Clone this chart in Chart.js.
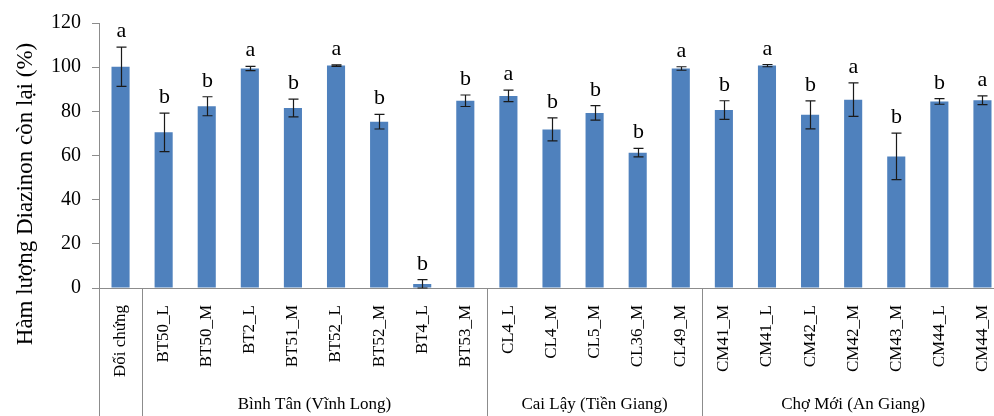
<!DOCTYPE html>
<html>
<head>
<meta charset="utf-8">
<script src="https://cdn.jsdelivr.net/npm/chart.js@4/dist/chart.umd.min.js"></script>
<style>
  html, body { margin: 0; padding: 0; background: #fff; overflow: hidden; }
  #wrap { width: 1004px; height: 416px; }
</style>
</head>
<body>
<div id="wrap"><canvas id="c" width="1004" height="416"></canvas></div>
<script>
// Strain names, in plotting order
const categories = ['Đối chứng',
  'BT50_L', 'BT50_M', 'BT2_L', 'BT51_M', 'BT52_L', 'BT52_M', 'BT4_L', 'BT53_M',
  'CL4_L', 'CL4_M', 'CL5_M', 'CL36_M', 'CL49_M',
  'CM41_M', 'CM41_L', 'CM42_L', 'CM42_M', 'CM43_M', 'CM44_L', 'CM44_M'];

// Remaining Diazinon (%) and its standard deviation
const remaining = [100.2, 70.5, 82.3, 99.4, 81.5, 100.7, 75.3, 1.8, 84.8,
  87.0, 71.8, 79.3, 61.3, 99.4,
  80.6, 100.7, 78.4, 85.3, 59.6, 84.5, 85.0];
const stdDev = [8.9, 8.7, 4.3, 1.0, 4.0, 0.3, 3.3, 2.0, 2.6,
  2.6, 5.2, 3.3, 1.9, 0.8,
  4.2, 0.5, 6.3, 7.6, 10.5, 1.3, 2.0];

// Significance letters
const letters = ['a', 'b', 'b', 'a', 'b', 'a', 'b', 'b', 'b',
  'a', 'b', 'b', 'b', 'a',
  'b', 'a', 'b', 'a', 'b', 'b', 'a'];

// Sampling sites: name and index range of their strains
const groupNames = ['Bình Tân (Vĩnh Long)', 'Cai Lậy (Tiền Giang)', 'Chợ Mới (An Giang)'];
const groupFirst = [1, 9, 14];
const groupLast = [8, 13, 20];

const yTicks = [0, 20, 40, 60, 80, 100, 120];

const SERIF = '"Liberation Serif", "Times New Roman", serif';
const AXIS_GREY = '#8c8c8c';

const annotate = {
  id: 'annotate',
  afterDatasetsDraw(chart) {
    const { ctx } = chart;
    const x = chart.scales.x, y = chart.scales.y;
    ctx.save();
    ctx.strokeStyle = '#1a1a1a';
    ctx.lineWidth = 1.2;
    remaining.forEach((v, i) => {
      const cx = Math.round(x.getPixelForValue(i)) + 0.5;
      const top = y.getPixelForValue(v + stdDev[i]);
      const bot = y.getPixelForValue(Math.max(0, v - stdDev[i]));
      ctx.beginPath();
      ctx.moveTo(cx, top); ctx.lineTo(cx, bot);
      ctx.moveTo(cx - 5, top); ctx.lineTo(cx + 5, top);
      ctx.moveTo(cx - 5, bot); ctx.lineTo(cx + 5, bot);
      ctx.stroke();
      // significance letter above the error bar
      ctx.fillStyle = '#000';
      ctx.font = '22px ' + SERIF;
      ctx.textAlign = 'center';
      ctx.textBaseline = 'alphabetic';
      ctx.fillText(letters[i], cx, top - 10);
    });
    ctx.restore();
  },
  afterDraw(chart) {
    const { ctx, chartArea } = chart;
    const x = chart.scales.x;
    const H = chart.height;
    ctx.save();
    // y axis continues down through the label band, plus site separators
    ctx.strokeStyle = AXIS_GREY;
    ctx.lineWidth = 1;
    const sepAt = [Math.round(chartArea.left) + 0.5];
    groupFirst.forEach(i => {
      sepAt.push(Math.round((x.getPixelForValue(i - 1) + x.getPixelForValue(i)) / 2) + 0.5);
    });
    sepAt.forEach(px => {
      ctx.beginPath();
      ctx.moveTo(px, chartArea.bottom);
      ctx.lineTo(px, H);
      ctx.stroke();
    });
    // site names under their strains
    ctx.fillStyle = '#000';
    ctx.font = '17px ' + SERIF;
    ctx.textAlign = 'center';
    ctx.textBaseline = 'alphabetic';
    groupNames.forEach((name, g) => {
      const left = (x.getPixelForValue(groupFirst[g] - 1) + x.getPixelForValue(groupFirst[g])) / 2;
      const right = groupLast[g] === categories.length - 1
        ? chartArea.right
        : (x.getPixelForValue(groupLast[g]) + x.getPixelForValue(groupLast[g] + 1)) / 2;
      ctx.fillText(name, (left + right) / 2, 409);
    });
    // y axis title
    ctx.translate(32, 194);
    ctx.rotate(-Math.PI / 2);
    ctx.font = '23px ' + SERIF;
    ctx.textAlign = 'center';
    ctx.textBaseline = 'alphabetic';
    ctx.fillText('Hàm lượng Diazinon còn lại (%)', 0, 0);
    ctx.restore();
  }
};

new Chart(document.getElementById('c'), {
  type: 'bar',
  data: {
    labels: categories,
    datasets: [{
      data: remaining,
      backgroundColor: '#4f81bd',
      borderWidth: 0,
      barPercentage: 0.42,
      categoryPercentage: 1.0
    }]
  },
  options: {
    responsive: false,
    animation: false,
    events: [],
    layout: { padding: { top: 14, left: 0, right: 0, bottom: 0 } },
    plugins: { legend: { display: false }, tooltip: { enabled: false }, title: { display: false } },
    scales: {
      x: {
        grid: { display: false, drawTicks: false },
        border: { display: true, color: AXIS_GREY, width: 1 },
        ticks: {
          autoSkip: false,
          minRotation: 90,
          maxRotation: 90,
          padding: 17,
          color: '#000',
          font: { family: SERIF, size: 17 }
        },
        afterFit(scale) {
          scale.height = 128;
          scale.paddingLeft = 0;
          scale.paddingRight = 0;
        }
      },
      y: {
        min: 0,
        max: 120,
        afterBuildTicks(scale) { scale.ticks = yTicks.map(v => ({ value: v })); },
        grid: { drawOnChartArea: false, drawTicks: true, tickLength: 7, color: AXIS_GREY },
        border: { display: true, color: AXIS_GREY, width: 1 },
        ticks: {
          padding: 11,
          color: '#000',
          font: { family: SERIF, size: 20 }
        },
        afterFit(scale) { scale.width = 99; }
      }
    }
  },
  plugins: [annotate]
});
</script>
</body>
</html>
